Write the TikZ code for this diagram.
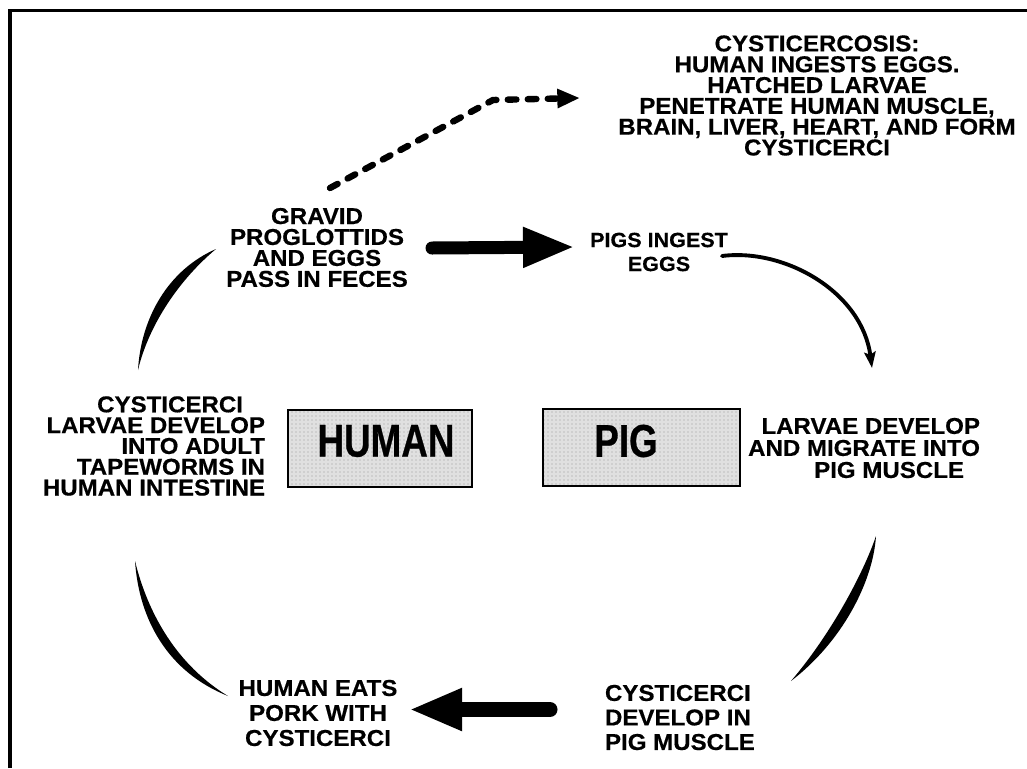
\documentclass[tikz,border=0pt]{standalone}
\usepackage{fontspec}
\newfontfamily\lblfont{Liberation Sans}[FakeStretch=1.05, BoldFeatures={FakeBold=0.5}]
\newfontfamily\boxfont{Liberation Sans}[FakeStretch=0.8, BoldFeatures={FakeBold=0.6}]
\usetikzlibrary{arrows.meta,patterns}
\tikzset{
  txt/.style={inner sep=0pt, outer sep=0pt, font=\lblfont\bfseries\fontsize{17.2pt}{#1}\selectfont},
  smalltxt/.style={inner sep=0pt, outer sep=0pt, font=\lblfont\bfseries\fontsize{15.4pt}{#1}\selectfont},
  hostbox/.style={draw=black, line width=1.5pt, preaction={fill=black!12}, pattern=dots, pattern color=black!40, minimum height=57.75pt, inner sep=0pt},
  hostlbl/.style={inner sep=0pt, outer sep=0pt, font=\boxfont\bfseries\fontsize{34.5pt}{36pt}\selectfont},
  fatarrow/.style={line width=#1, line cap=round},
  brush/.style={fill=black},
  frameline/.style={line width=2.4pt},
  dashedarrow/.style={line width=4.8pt, dash pattern=on 6.5pt off 8.5pt, line cap=round, -{Triangle[length=17pt,width=13.5pt]}},
  curvearrow/.style={line width=2.9pt, line cap=round, -{Stealth[length=12pt,width=8.5pt,inset=2pt]}},
}
\begin{document}
\begin{tikzpicture}[x=0.75pt,y=-0.75pt]
\useasboundingbox (0,0) rectangle (1027,768);
% frame
\draw[frameline] (10,768) -- (10,10.5) -- (1027,10.5);

% text nodes
\node[txt=15.6pt, align=center] (cysto) at (817,95.5)
  {CYSTICERCOSIS:\\HUMAN INGESTS EGGS.\\HATCHED LARVAE\\PENETRATE HUMAN MUSCLE,\\BRAIN, LIVER, HEART, AND FORM\\CYSTICERCI};
\node[txt=15.7pt, align=center] (gravid) at (317,247.5)
  {GRAVID\\PROGLOTTIDS\\AND EGGS\\PASS IN FECES};
\node[smalltxt=18pt, align=center] (pigs) at (659,252)
  {PIGS INGEST\\EGGS};
\node[txt=16.5pt, align=right, anchor=east] (larvae) at (980,448)
  {LARVAE DEVELOP\\AND MIGRATE INTO\\PIG MUSCLE\hspace*{12pt}};
\node[txt=15.6pt, align=right, anchor=east] (adult) at (265,446)
  {CYSTICERCI\hspace*{16.5pt}\\LARVAE DEVELOP\hspace*{6pt}\\INTO ADULT\hspace*{9pt}\\TAPEWORMS IN\hspace*{9pt}\\HUMAN INTESTINE};
\node[txt=18.75pt, align=center] (eats) at (318,713)
  {HUMAN EATS\\PORK WITH\\CYSTICERCI};
\node[txt=18.4pt, align=left, anchor=west] (develop) at (605,717.5)
  {CYSTICERCI\\DEVELOP IN\\PIG MUSCLE};

% host boxes
\node[hostbox, minimum width=138pt] (humanbox) at (380,448.5) {};
\node[hostlbl] (human) at (386,441) {HUMAN};
\node[hostbox, minimum width=147.75pt] (pigbox) at (641.5,447.5) {};
\node[hostlbl] (pig) at (626,441) {PIG};

% connector end points
\coordinate (dstart) at (330,188);
\coordinate (dbend) at (493,100);
\coordinate (dend) at (580,98);
\coordinate (g2pa) at (432,248);
\coordinate (g2pb) at (575,247);
\coordinate (c2ea) at (550,709.5);
\coordinate (c2eb) at (409,709.5);
\coordinate (a1s) at (138,370);
\coordinate (a1e) at (216,249);
\coordinate (a2s) at (135,561);
\coordinate (a2e) at (228,696);
\coordinate (a3s) at (722,256);
\coordinate (a3e) at (872,368);
\coordinate (a4s) at (876,536);
\coordinate (a4e) at (791,681);

% dashed arrow to cysticercosis
\draw[dashedarrow] (dstart) -- (dbend) -- (dend);

% thick straight arrows
\draw[fatarrow=9.75pt, -{Triangle[length=39pt,width=27.75pt]}] (g2pa) -- (g2pb);
\draw[fatarrow=11.25pt, -{Triangle[length=39.75pt,width=29.25pt]}] (c2ea) -- (c2eb);

% brush-stroke arcs
\fill[brush] (a1s) .. controls (141,318) and (168,270) .. (a1e)
   .. controls (180,279) and (149,324) .. (a1s) -- cycle;
\fill[brush] (a2s) .. controls (139,620) and (168,672) .. (a2e)
   .. controls (177,665) and (148,614) .. (a2s) -- cycle;
\fill[brush] (a4s) .. controls (873,582) and (842,642) .. (a4e)
   .. controls (831,634) and (863,574) .. (a4s) -- cycle;
\draw[curvearrow] (a3s) .. controls (785,248) and (862,292) .. (a3e);
\end{tikzpicture}
\end{document}
